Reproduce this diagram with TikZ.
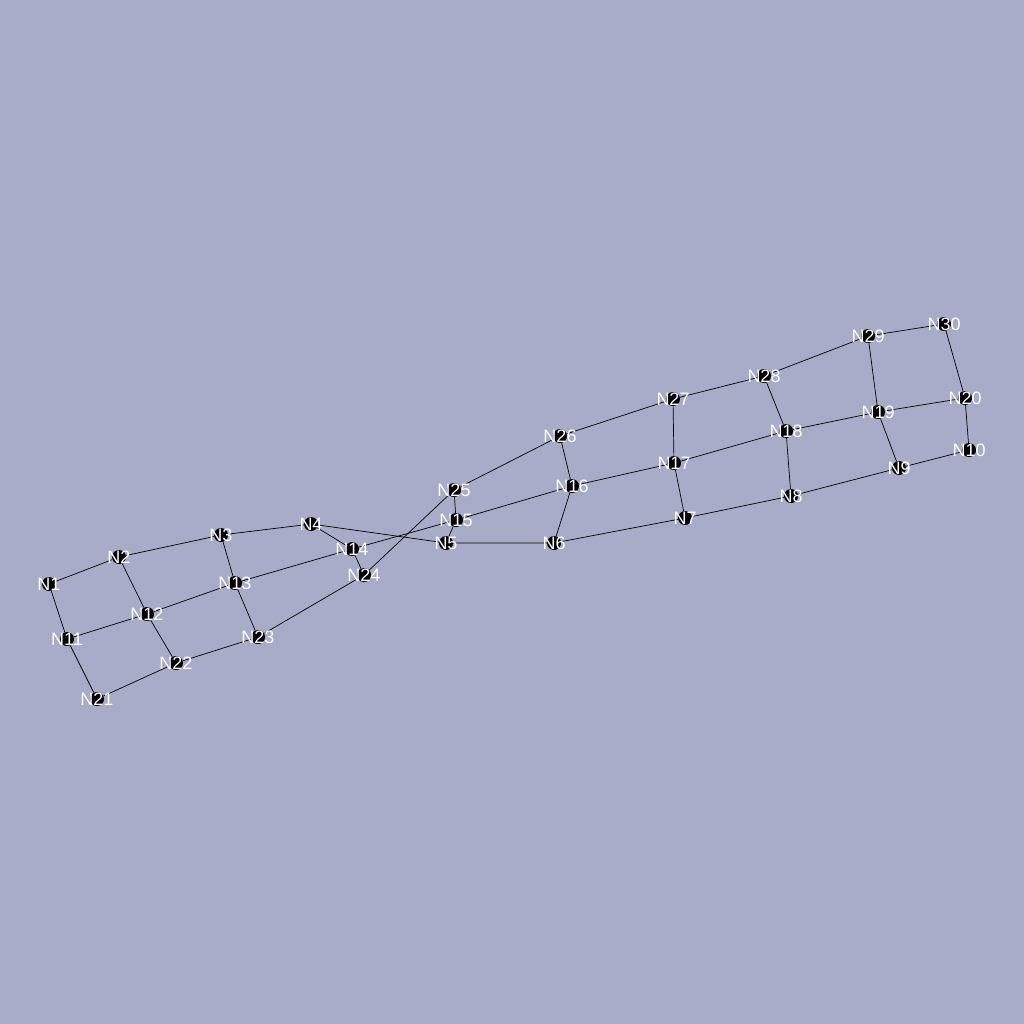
\documentclass[tikz,border=0pt]{standalone}
\usepackage{fontspec}
\setmainfont{Liberation Sans}
\usetikzlibrary{backgrounds}
\definecolor{bgcol}{RGB}{168,172,200}
\newcommand{\lblfont}{\fontsize{18}{18}\selectfont}
\tikzset{
  dot/.style={circle,fill=black,inner sep=0pt,minimum size=14pt,
    label={[text=white,font=\lblfont,inner sep=0pt]center:#1}},
  edge/.style={draw=black,line width=0.7pt}
}
\begin{document}
\begin{tikzpicture}[x=1pt,y=-1pt]
        \useasboundingbox (0,0) rectangle (1024,1024);
        \node[dot=N1] (N1) at (49,584) {};
        \node[dot=N2] (N2) at (119,557) {};
        \node[dot=N3] (N3) at (221,535) {};
        \node[dot=N4] (N4) at (311,524) {};
        \node[dot=N5] (N5) at (446,543) {};
        \node[dot=N6] (N6) at (554,543) {};
        \node[dot=N7] (N7) at (685,518) {};
        \node[dot=N8] (N8) at (791,496) {};
        \node[dot=N9] (N9) at (899,468) {};
        \node[dot=N10] (N10) at (969,450) {};
        \node[dot=N11] (N11) at (67,639) {};
        \node[dot=N12] (N12) at (147,614) {};
        \node[dot=N13] (N13) at (235,583) {};
        \node[dot=N14] (N14) at (352,549) {};
        \node[dot=N15] (N15) at (456,520) {};
        \node[dot=N16] (N16) at (572,486) {};
        \node[dot=N17] (N17) at (674,463) {};
        \node[dot=N18] (N18) at (786,431) {};
        \node[dot=N19] (N19) at (878,412) {};
        \node[dot=N20] (N20) at (965,398) {};
        \node[dot=N21] (N21) at (97,699) {};
        \node[dot=N22] (N22) at (176,663) {};
        \node[dot=N23] (N23) at (258,637) {};
        \node[dot=N24] (N24) at (364,575) {};
        \node[dot=N25] (N25) at (454,490) {};
        \node[dot=N26] (N26) at (560,436) {};
        \node[dot=N27] (N27) at (673,399) {};
        \node[dot=N28] (N28) at (764,376) {};
        \node[dot=N29] (N29) at (868,336) {};
        \node[dot=N30] (N30) at (944,324) {};
        \begin{pgfonlayer}{background}
        \fill[bgcol] (0,0) rectangle (1024,1024);
        % rows
        \draw[edge] (N1) -- (N2) -- (N3) -- (N4) -- (N5) -- (N6) -- (N7) -- (N8) -- (N9) -- (N10);
        \draw[edge] (N11) -- (N12) -- (N13) -- (N14) -- (N15) -- (N16) -- (N17) -- (N18) -- (N19) -- (N20);
        \draw[edge] (N21) -- (N22) -- (N23) -- (N24) -- (N25) -- (N26) -- (N27) -- (N28) -- (N29) -- (N30);
        % columns
        \draw[edge] (N1) -- (N11) -- (N21);
        \draw[edge] (N2) -- (N12) -- (N22);
        \draw[edge] (N3) -- (N13) -- (N23);
        \draw[edge] (N4) -- (N14) -- (N24);
        \draw[edge] (N5) -- (N15) -- (N25);
        \draw[edge] (N6) -- (N16) -- (N26);
        \draw[edge] (N7) -- (N17) -- (N27);
        \draw[edge] (N8) -- (N18) -- (N28);
        \draw[edge] (N9) -- (N19) -- (N29);
        \draw[edge] (N10) -- (N20) -- (N30);
        \end{pgfonlayer}
    \end{tikzpicture}
\end{document}
